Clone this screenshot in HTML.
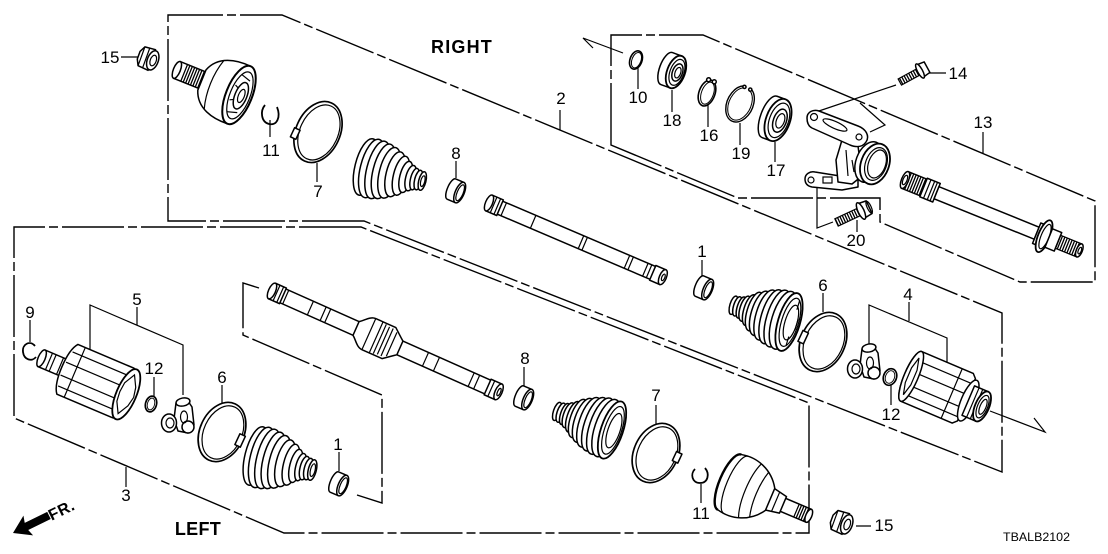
<!DOCTYPE html>
<html><head><meta charset="utf-8">
<style>
html,body{margin:0;padding:0;background:#fff;}
svg{display:block}
.d{fill:none;stroke:#000;stroke-width:1.4;stroke-dasharray:62 4 9 4}
.p{fill:#fff;stroke:#000;stroke-width:1.5;stroke-linejoin:round}
.l{fill:none;stroke:#000;stroke-width:1.2}
.k{fill:none;stroke:#000;stroke-width:2.4}
.t{font-family:"Liberation Sans",Arial,sans-serif;font-size:17px;fill:#000;text-anchor:middle}
.b{font-family:"Liberation Sans",Arial,sans-serif;font-weight:bold;fill:#000}
</style></head><body>
<svg width="1108" height="554" viewBox="0 0 1108 554" xmlns="http://www.w3.org/2000/svg">
<defs>
<pattern id="h" width="2.6" height="6" patternUnits="userSpaceOnUse"><rect width="1.3" height="6" fill="#000"/></pattern>
</defs>
<rect width="1108" height="554" fill="#fff"/>

<!-- dashed boxes -->
<path class="d" d="M364,221 L168,221 L168,15 L282,15 L1002,313 L1002,472 Z"/>
<path class="d" d="M361,227 L14,227 L14,418 L284,533 L809,533 L809,403 Z"/>
<path class="d" d="M611,145 L611,35 L703,35 L1095,201 L1095,282 L1020,282 L880,222 L880,198 L738,198 Z"/>
<path class="d" d="M259,288 L243,283 L243,335 L382,395 L382,503 L357,495"/>

<!-- axis arrows -->
<path class="l" d="M623,53 L583,38 L593,48"/>
<path class="l" d="M990,411 L1045,432 L1034,418"/>

<!-- bracket leader lines -->
<path class="l" d="M90,350 L90,305 L183,345 L183,395"/>
<path class="l" d="M869,345 L869,305 L947,338 L947,367"/>

<!-- leaders -->
<path class="l" d="M121,57 L139,57 M270,120 L270,137 M317,163 L317,182 M456,161 L456,178 M560,110 L560,130 M638,67 L638,89 M672,90 L672,112 M708,104 L708,127 M740,123 L740,145 M775,142 L775,162 M983,132 L983,153 M928,73 L946,73 M857,220 L857,232 M702,260 L702,280 M823,293 L823,312 M909,302 L909,321 M891,385 L891,405 M30,320 L30,342 M137,307 L137,325 M154,377 L154,396 M222,385 L222,403 M339,452 L339,471 M524,367 L524,386 M656,405 L656,424 M701,484 L701,503 M856,526 L871,526 M126,467 L126,487"/>
<path class="l" d="M896,85 L813,113 M860,103 L885,125 L870,132 M817,188 L817,228 L833,222"/>

<!-- ===== TOP (RIGHT) ===== -->
<!-- nut 15 -->
<g transform="translate(149,59) rotate(20)">
<path class="p" d="M-8,-10 L3,-11 L3,11 L-8,10 L-11,4 L-11,-4 Z"/>
<path class="l" d="M-8,-10 L-8,10 M-3,-11 L-3,11"/>
<ellipse class="p" cx="4" cy="0" rx="5.5" ry="10"/>
<ellipse class="l" cx="4.5" cy="0" rx="3" ry="5.5"/>
</g>
<!-- outer CV joint top -->
<g transform="translate(239,95) rotate(22)">
<rect class="p" x="-67" y="-9" width="30" height="18"/>
<rect x="-60" y="-9" width="22" height="18" fill="url(#h)"/>
<ellipse class="p" cx="-67" cy="0" rx="3.5" ry="9"/>
<path class="p" d="M-40,-11 C-34,-28 -16,-32 0,-31 L0,31 C-16,32 -34,28 -40,11 Z"/>
<path class="l" d="M-27,-26 C-32,-10 -32,10 -27,26"/>
<ellipse class="p" cx="0" cy="0" rx="13" ry="31" style="stroke-width:2"/>
<ellipse class="l" cx="1" cy="0" rx="10" ry="25"/>
<ellipse class="p" cx="2" cy="0" rx="6" ry="14"/>
<ellipse class="l" cx="2.5" cy="0" rx="3" ry="7"/>
<path class="l" d="M-5,-20 L5,-17 M-5,20 L5,17 M-7,-8 L-3,-6 M-7,8 L-3,6"/>
</g>
<!-- clip 11 top -->
<path d="M265,105 C260,111 261,122 269,124 C277,126 281,117 277,107" fill="none" stroke="#000" stroke-width="1.8"/>
<!-- band 7 top -->
<g transform="translate(318,132) rotate(25)">
<ellipse cx="0" cy="0" rx="22" ry="32" fill="none" stroke="#000" stroke-width="1.7"/>
<ellipse cx="1" cy="0" rx="19" ry="29" fill="none" stroke="#000" stroke-width="1.2"/>
<rect class="p" x="-23" y="6" width="6" height="10"/>
</g>
<!-- boot top -->
<g transform="translate(366,167) rotate(14)">
<ellipse class="p" cx="0" cy="0" rx="11" ry="29"/>
<ellipse class="p" cx="6" cy="0" rx="11.5" ry="30"/>
<ellipse class="p" cx="12" cy="0" rx="11" ry="29.5"/>
<ellipse class="p" cx="18" cy="0" rx="10.5" ry="28"/>
<ellipse class="p" cx="24" cy="0" rx="10" ry="26"/>
<ellipse class="p" cx="30" cy="0" rx="9" ry="23"/>
<ellipse class="p" cx="36" cy="0" rx="7.5" ry="20"/>
<ellipse class="p" cx="41" cy="0" rx="6" ry="16"/>
<ellipse class="p" cx="46" cy="0" rx="5" ry="13"/>
<ellipse class="p" cx="50" cy="0" rx="4" ry="11"/>
<ellipse class="p" cx="54" cy="0" rx="3.8" ry="10"/>
<ellipse class="p" cx="58" cy="0" rx="3.6" ry="9.5"/>
<ellipse class="l" cx="58.5" cy="0" rx="2" ry="5.5"/>
</g>
<!-- band 8 top -->
<g transform="translate(456,191) rotate(23)">
<path class="p" d="M-5,-11 L4,-11 L4,11 L-5,11 A4,11 0 0 1 -5,-11 Z"/>
<ellipse class="p" cx="4" cy="0" rx="4.5" ry="11"/>
<ellipse class="l" cx="4.5" cy="0" rx="3" ry="8.5"/>
</g>
<!-- shaft 2 -->
<g transform="translate(489,203) rotate(23.1)">
<rect class="p" x="0" y="-7" width="189" height="14"/>
<rect class="p" x="0" y="-8.5" width="12" height="17"/>
<ellipse class="p" cx="0" cy="0" rx="3.5" ry="8.5"/>
<path class="l" d="M5,-8.5 L5,8.5 M9,-8.5 L9,8.5 M16,-7 L16,7 M48,-7 L48,7 M100,-7 L100,7 M104,-7 L104,7 M150,-7 L150,7 M154,-7 L154,7 M170,-7 L170,7 M174,-7 L174,7"/>
<rect class="p" x="178" y="-8" width="11" height="16"/>
<ellipse class="p" cx="189" cy="0" rx="3.5" ry="8"/>
<ellipse class="l" cx="189.5" cy="0" rx="1.5" ry="3.5"/>
</g>
<!-- ring 10 -->
<g transform="translate(636,60) rotate(20)">
<ellipse cx="0" cy="0" rx="6" ry="9.5" fill="none" stroke="#000" stroke-width="1.6"/>
<ellipse cx="0.5" cy="0" rx="4.5" ry="8" fill="none" stroke="#000" stroke-width="1"/>
</g>
<!-- bearing 18 -->
<g transform="translate(676,72) rotate(20)">
<path class="p" d="M-10,-17 L0,-17 L0,17 L-10,17 A7,17 0 0 1 -10,-17 Z"/>
<ellipse class="p" cx="0" cy="0" rx="9" ry="17" style="stroke-width:1.8"/>
<ellipse class="l" cx="1" cy="0" rx="7" ry="13.5"/>
<ellipse class="p" cx="1.5" cy="0" rx="5" ry="9"/>
<ellipse class="l" cx="2" cy="0" rx="2.8" ry="5.5"/>
</g>
<!-- ring 16 -->
<g transform="translate(707,93) rotate(20)">
<ellipse cx="0" cy="0" rx="8" ry="13.5" fill="none" stroke="#000" stroke-width="1.6"/>
<ellipse cx="0.5" cy="0" rx="6" ry="11.5" fill="none" stroke="#000" stroke-width="1"/>
<circle class="p" cx="-3" cy="-13" r="2"/>
<circle class="p" cx="3" cy="-13" r="2"/>
</g>
<!-- circlip 19 -->
<g transform="translate(740,104) rotate(25)">
<path d="M3.4,-18.4 A13,19 0 1 1 -3.4,-18.4" fill="none" stroke="#000" stroke-width="1.4"/>
<path d="M2.9,-16.4 A11,17 0 1 1 -2.9,-16.4" fill="none" stroke="#000" stroke-width="1"/>
<circle class="p" cx="3.2" cy="-17.4" r="1.6"/>
<circle class="p" cx="-3.2" cy="-17.4" r="1.6"/>
</g>
<!-- bearing 17 -->
<g transform="translate(778,120) rotate(20)">
<path class="p" d="M-9,-22 L0,-22 L0,22 L-9,22 A9,22 0 0 1 -9,-22 Z"/>
<ellipse class="p" cx="0" cy="0" rx="12" ry="22" style="stroke-width:1.8"/>
<ellipse class="l" cx="1" cy="0" rx="9.5" ry="18"/>
<ellipse class="p" cx="2" cy="0" rx="6.5" ry="12"/>
<ellipse class="l" cx="2.5" cy="0" rx="4" ry="7.5"/>
</g>
<!-- bracket 13 -->
<path class="p" d="M805,179 C805,174 810,171 815,172 L840,176 L858,178 L858,187 L842,190 L812,187 C807,186 805,183 805,179 Z"/>
<circle class="l" cx="811" cy="180" r="3"/>
<rect class="l" x="823" y="177" width="9" height="6"/>
<path class="p" d="M842,140 L858,146 L862,176 L852,184 L838,182 L836,160 Z"/>
<path class="l" d="M846,150 L848,176 M852,160 L854,172"/>
<path class="p" d="M807,118 C807,112 813,109 819,111 L858,126 C866,129 870,136 866,142 C862,148 855,147 850,145 L812,128 C808,126 807,122 807,118 Z"/>
<circle class="l" cx="814" cy="117" r="3.5"/>
<ellipse class="l" cx="835" cy="125" rx="13" ry="3.5" transform="rotate(24 835 125)"/>
<circle class="l" cx="859" cy="137" r="3"/>
<ellipse class="p" cx="869" cy="162" rx="13" ry="21" transform="rotate(20 869 162)"/>
<ellipse class="p" cx="875" cy="164" rx="14" ry="21" transform="rotate(20 875 164)" style="stroke-width:1.8"/>
<ellipse class="l" cx="876" cy="164" rx="10.5" ry="17" transform="rotate(20 876 164)"/>
<ellipse class="l" cx="877" cy="164" rx="8.5" ry="14.5" transform="rotate(20 877 164)"/>
<!-- bolt 14 -->
<g transform="translate(920,71) rotate(151.4)">
<rect x="0" y="-3.5" width="23" height="7" fill="url(#h)" stroke="#000" stroke-width="1.2"/>
<path class="p" d="M-8,-6 L0,-7 L0,7 L-8,6 Z"/>
<ellipse class="p" cx="0" cy="0" rx="2.5" ry="8"/>
</g>
<!-- bolt 20 -->
<g transform="translate(861,211) rotate(155)">
<rect x="0" y="-4" width="27" height="8" fill="url(#h)" stroke="#000" stroke-width="1.2"/>
<path class="p" d="M-9,-7 L0,-8 L0,8 L-9,7 Z"/>
<ellipse class="p" cx="0" cy="0" rx="3" ry="9"/>
<ellipse class="l" cx="-9" cy="0" rx="2" ry="6.5"/>
</g>
<!-- shaft 13 -->
<g transform="translate(905,180) rotate(22)">
<rect x="0" y="-9" width="20" height="18" fill="url(#h)" stroke="#000" stroke-width="1.4"/>
<ellipse class="p" cx="0" cy="0" rx="3.5" ry="9"/>
<ellipse class="l" cx="0" cy="0" rx="2" ry="5"/>
<rect class="p" x="20" y="-10" width="14" height="20"/>
<path class="l" d="M24,-10 L24,10 M28,-10 L28,10 M31,-10 L31,10"/>
<rect class="p" x="34" y="-6.5" width="108" height="13"/>
<rect class="p" x="142" y="-11" width="8" height="22"/>
<ellipse class="p" cx="150" cy="0" rx="6" ry="17" style="stroke-width:1.8"/>
<ellipse class="l" cx="151" cy="0" rx="4" ry="13"/>
<rect class="p" x="155" y="-10" width="10" height="20"/>
<rect x="165" y="-7" width="23" height="14" fill="url(#h)" stroke="#000" stroke-width="1.3"/>
<ellipse class="p" cx="188" cy="0" rx="3" ry="7"/>
<ellipse class="l" cx="188.5" cy="0" rx="1.5" ry="3.5"/>
</g>

<!-- ===== MIDDLE (RIGHT inner) ===== -->
<!-- band 1 top -->
<g transform="translate(704,288) rotate(23)">
<path class="p" d="M-5,-11 L4,-11 L4,11 L-5,11 A4,11 0 0 1 -5,-11 Z"/>
<ellipse class="p" cx="4" cy="0" rx="4.5" ry="11"/>
<ellipse class="l" cx="4.5" cy="0" rx="3" ry="8.5"/>
</g>
<!-- boot middle right -->
<g transform="translate(789,322) rotate(196.8)">
<ellipse class="p" cx="58" cy="0" rx="3.6" ry="9.5"/>
<ellipse class="p" cx="54" cy="0" rx="3.8" ry="10"/>
<ellipse class="p" cx="50" cy="0" rx="4" ry="11"/>
<ellipse class="p" cx="46" cy="0" rx="5" ry="13"/>
<ellipse class="p" cx="41" cy="0" rx="6" ry="16"/>
<ellipse class="p" cx="36" cy="0" rx="7.5" ry="20"/>
<ellipse class="p" cx="30" cy="0" rx="9" ry="23"/>
<ellipse class="p" cx="24" cy="0" rx="10" ry="26"/>
<ellipse class="p" cx="18" cy="0" rx="10.5" ry="28"/>
<ellipse class="p" cx="12" cy="0" rx="11" ry="29.5"/>
<ellipse class="p" cx="6" cy="0" rx="11.5" ry="30"/>
<ellipse class="p" cx="0" cy="0" rx="11" ry="30" style="stroke-width:1.8"/>
<ellipse class="l" cx="-1" cy="0" rx="8.5" ry="25"/>
<ellipse class="l" cx="-2" cy="0" rx="6" ry="18"/>
<path class="l" d="M-4,-24 L-4,-14 M-4,14 L-4,24 M-8,-6 L-8,6"/>
</g>
<!-- band 6 right -->
<g transform="translate(823,342) rotate(25)">
<ellipse cx="0" cy="0" rx="22" ry="31" fill="none" stroke="#000" stroke-width="1.7"/>
<ellipse cx="1" cy="0" rx="19" ry="28" fill="none" stroke="#000" stroke-width="1.2"/>
<rect class="p" x="-23" y="-2" width="6" height="12"/>
</g>
<!-- tripod 4 -->
<g transform="translate(864,361)">
<path class="p" d="M-2,-12 L10,-14 L14,-8 L16,10 L10,18 L0,16 L-4,4 Z"/>
<ellipse class="p" cx="5" cy="-13" rx="7" ry="4" transform="rotate(-10 5 -13)"/>
<ellipse class="p" cx="10" cy="12" rx="6" ry="6"/>
<ellipse class="p" cx="-9" cy="8" rx="7.5" ry="9"/>
<ellipse class="l" cx="-8" cy="8" rx="4" ry="5"/>
<ellipse class="l" cx="6" cy="2" rx="3.5" ry="6"/>
</g>
<!-- o-ring 12 right -->
<g transform="translate(890,377) rotate(20)">
<ellipse cx="0" cy="0" rx="6.5" ry="8.5" fill="none" stroke="#000" stroke-width="1.7"/>
<ellipse cx="0" cy="0" rx="4.5" ry="6.5" fill="none" stroke="#000" stroke-width="0.9"/>
</g>
<!-- housing 4 -->
<g transform="translate(948,392) rotate(23)">
<path class="p" d="M-40,-27 L16,-27 L20,-23 L20,23 L16,27 L-40,27 A7,27 0 0 1 -40,-27 Z"/>
<path class="l" d="M-40,-17 L20,-17 M-40,-5 L20,-5 M-40,9 L20,9 M-40,19 L20,19 M4,-27 L4,27"/>
<ellipse class="p" cx="-40" cy="0" rx="7" ry="27"/>
<path class="l" d="M-40,-20 L-43,-8 L-43,8 L-40,20 L-37,8 L-37,-8 Z"/>
<ellipse class="p" cx="22" cy="0" rx="7" ry="22"/>
<rect class="p" x="22" y="-16" width="15" height="32"/>
<path class="l" d="M27,-16 L27,16 M31,-16 L31,16"/>
<ellipse class="p" cx="37" cy="0" rx="7" ry="16" style="stroke-width:1.8"/>
<ellipse class="l" cx="37.5" cy="0" rx="5" ry="12"/>
<ellipse class="l" cx="38" cy="0" rx="3" ry="8"/>
</g>

<!-- ===== LEFT ===== -->
<!-- circlip 9 -->
<path d="M35,346 C30,340 22,344 23,352 C24,360 32,362 36,357" fill="none" stroke="#000" stroke-width="1.8"/>
<!-- housing 5 -->
<g transform="translate(95,381) rotate(23)">
<rect class="p" x="-58" y="-9" width="30" height="18"/>
<ellipse class="p" cx="-58" cy="0" rx="3.5" ry="9"/>
<path class="l" d="M-50,-9 L-50,9 M-46,-9 L-46,9 M-38,-9 L-38,9"/>
<path class="p" d="M-30,-27 L30,-27 C33,-27 34,-25 34,-23 L34,23 C34,25 33,27 30,27 L-30,27 C-34,22 -36,12 -36,0 C-36,-12 -34,-22 -30,-27 Z"/>
<path class="l" d="M-32,-18 L34,-18 M-34,-6 L34,-6 M-34,8 L34,8 M-32,19 L34,19 M-22,-27 L-22,27"/>
<ellipse class="p" cx="34" cy="0" rx="10" ry="27" style="stroke-width:1.8"/>
<path class="l" d="M34,-21 L40,-10 L42,0 L40,10 L34,21 L28,10 L27,0 L28,-10 Z"/>
</g>
<!-- o-ring 12 left -->
<g transform="translate(151,404) rotate(15)">
<ellipse cx="0" cy="0" rx="5.5" ry="8" fill="none" stroke="#000" stroke-width="1.7"/>
<ellipse cx="0" cy="0" rx="3.6" ry="6" fill="none" stroke="#000" stroke-width="0.9"/>
</g>
<!-- tripod left -->
<g transform="translate(178,415)">
<path class="p" d="M-2,-12 L10,-14 L14,-8 L16,10 L10,18 L0,16 L-4,4 Z"/>
<ellipse class="p" cx="5" cy="-13" rx="7" ry="4" transform="rotate(-10 5 -13)"/>
<ellipse class="p" cx="10" cy="12" rx="6" ry="6"/>
<ellipse class="p" cx="-9" cy="8" rx="7.5" ry="9"/>
<ellipse class="l" cx="-8" cy="8" rx="4" ry="5"/>
<ellipse class="l" cx="6" cy="2" rx="3.5" ry="6"/>
</g>
<!-- band 6 left -->
<g transform="translate(222,432) rotate(25)">
<ellipse cx="0" cy="0" rx="22" ry="31" fill="none" stroke="#000" stroke-width="1.7"/>
<ellipse cx="1" cy="0" rx="19" ry="28" fill="none" stroke="#000" stroke-width="1.2"/>
<rect class="p" x="17" y="-6" width="6" height="12"/>
</g>
<!-- boot left -->
<g transform="translate(256,456) rotate(14)">
<ellipse class="p" cx="0" cy="0" rx="11" ry="30"/>
<ellipse class="p" cx="6" cy="0" rx="11.5" ry="31"/>
<ellipse class="p" cx="12" cy="0" rx="11" ry="30.5"/>
<ellipse class="p" cx="18" cy="0" rx="10.5" ry="29"/>
<ellipse class="p" cx="24" cy="0" rx="10" ry="27"/>
<ellipse class="p" cx="30" cy="0" rx="9" ry="24"/>
<ellipse class="p" cx="36" cy="0" rx="7.5" ry="21"/>
<ellipse class="p" cx="41" cy="0" rx="6" ry="17"/>
<ellipse class="p" cx="46" cy="0" rx="5" ry="14"/>
<ellipse class="p" cx="50" cy="0" rx="4.5" ry="12"/>
<ellipse class="p" cx="54" cy="0" rx="4.2" ry="11"/>
<ellipse class="p" cx="58" cy="0" rx="4" ry="10.5"/>
<ellipse class="l" cx="58.5" cy="0" rx="2.3" ry="6.5"/>
</g>
<!-- band 1 left -->
<g transform="translate(339,484) rotate(23)">
<path class="p" d="M-5,-11 L4,-11 L4,11 L-5,11 A4,11 0 0 1 -5,-11 Z"/>
<ellipse class="p" cx="4" cy="0" rx="4.5" ry="11"/>
<ellipse class="l" cx="4.5" cy="0" rx="3" ry="8.5"/>
</g>
<!-- shaft 3 -->
<g transform="translate(272,291) rotate(24)">
<rect class="p" x="0" y="-7.5" width="248" height="15"/>
<rect class="p" x="0" y="-8.5" width="12" height="17"/>
<ellipse class="p" cx="0" cy="0" rx="3.5" ry="8.5"/>
<path class="l" d="M5,-8.5 L5,8.5 M9,-8.5 L9,8.5 M15,-7.5 L15,7.5 M42,-7.5 L42,7.5 M56,-7.5 L56,7.5 M61,-7.5 L61,7.5"/>
<path class="p" d="M92,-7.5 C96,-10 100,-17 106,-17 L128,-17 L138,-9 L140,-7.5 L140,7.5 L138,9 L128,17 L106,17 C100,17 96,10 92,7.5 Z"/>
<path class="l" d="M106,-17 L106,17 M114,-17 L114,17 M118,-16 L118,16 M122,-15 L122,15 M126,-15 L126,15 M131,-13 L131,13"/>
<path class="l" d="M168,-7.5 L168,7.5 M180,-7.5 L180,7.5 M218,-7.5 L218,7.5 M224,-7.5 L224,7.5"/>
<rect class="p" x="236" y="-8.5" width="12" height="17"/>
<path class="l" d="M240,-8.5 L240,8.5"/>
<ellipse class="p" cx="248" cy="0" rx="3.5" ry="8.5"/>
<ellipse class="l" cx="248.5" cy="0" rx="1.5" ry="4"/>
</g>
<!-- band 8 mid -->
<g transform="translate(524,398) rotate(23)">
<path class="p" d="M-5,-11 L4,-11 L4,11 L-5,11 A4,11 0 0 1 -5,-11 Z"/>
<ellipse class="p" cx="4" cy="0" rx="4.5" ry="11"/>
<ellipse class="l" cx="4.5" cy="0" rx="3" ry="8.5"/>
</g>
<!-- boot bottom middle -->
<g transform="translate(612,430) rotate(198.7)">
<ellipse class="p" cx="58" cy="0" rx="3.6" ry="9.5"/>
<ellipse class="p" cx="54" cy="0" rx="3.8" ry="10"/>
<ellipse class="p" cx="50" cy="0" rx="4" ry="11"/>
<ellipse class="p" cx="46" cy="0" rx="5" ry="13"/>
<ellipse class="p" cx="41" cy="0" rx="6" ry="16"/>
<ellipse class="p" cx="36" cy="0" rx="7.5" ry="20"/>
<ellipse class="p" cx="30" cy="0" rx="9" ry="23"/>
<ellipse class="p" cx="24" cy="0" rx="10" ry="26"/>
<ellipse class="p" cx="18" cy="0" rx="10.5" ry="28"/>
<ellipse class="p" cx="12" cy="0" rx="11" ry="29.5"/>
<ellipse class="p" cx="6" cy="0" rx="11.5" ry="30"/>
<ellipse class="p" cx="0" cy="0" rx="11" ry="30" style="stroke-width:1.8"/>
<ellipse class="l" cx="-1" cy="0" rx="8.5" ry="25"/>
<ellipse class="l" cx="-2" cy="0" rx="6" ry="18"/>
</g>
<!-- band 7 bottom -->
<g transform="translate(656,453) rotate(25)">
<ellipse cx="0" cy="0" rx="22" ry="31" fill="none" stroke="#000" stroke-width="1.7"/>
<ellipse cx="1" cy="0" rx="19" ry="28" fill="none" stroke="#000" stroke-width="1.2"/>
<rect class="p" x="18" y="-10" width="6" height="10"/>
</g>
<!-- clip 11 bottom -->
<path d="M695,469 C690,474 692,483 700,483 C708,483 710,474 705,468" fill="none" stroke="#000" stroke-width="1.8"/>
<!-- outer CV joint bottom -->
<g transform="translate(748,490) rotate(23)">
<rect class="p" x="36" y="-7" width="30" height="14"/>
<rect x="52" y="-7" width="13" height="14" fill="url(#h)"/>
<ellipse class="p" cx="66" cy="0" rx="3" ry="7"/>
<path class="p" d="M22,-12 L38,-9 L38,9 L22,12 Z"/>
<path class="l" d="M30,-10.5 L30,10.5"/>
<path class="p" d="M-20,-30 C-4,-34 14,-28 24,-12 L24,12 C14,28 -4,34 -20,30 A10,30 0 0 1 -20,-30 Z"/>
<path class="k" d="M-20,-30 A10,30 0 0 0 -20,30"/>
<path class="l" d="M-13,-31 A9,30 0 0 0 -13,31"/>
<path class="l" d="M2,-29 C-4,-14 -4,14 2,29"/>
<path class="l" d="M12,-24 C8,-10 8,10 12,24"/>
</g>
<!-- nut 15 bottom -->
<g transform="translate(843,523) rotate(20)">
<path class="p" d="M-9,-10 L3,-11 L3,11 L-9,10 L-12,4 L-12,-4 Z"/>
<path class="l" d="M-9,-10 L-9,10 M-3,-11 L-3,11"/>
<ellipse class="p" cx="4" cy="0" rx="5.5" ry="10"/>
<ellipse class="l" cx="4.5" cy="0" rx="3" ry="5.5"/>
</g>

<!-- FR arrow -->
<g transform="translate(13,533) rotate(-26)">
<path d="M0,0 L17,-11 L15,-4 L40,-4 L40,4 L15,4 L17,11 Z" fill="#000"/>
<text x="40" y="6" class="b" font-size="16" letter-spacing="0.5">FR.</text>
</g>

<!-- labels -->
<text class="b" x="462" y="53" font-size="18" text-anchor="middle" letter-spacing="1.2">RIGHT</text>
<text class="b" x="198" y="535" font-size="18" text-anchor="middle" letter-spacing="0.3">LEFT</text>
<text x="1003" y="541" font-family="Liberation Sans, Arial, sans-serif" font-size="12" textLength="67" lengthAdjust="spacingAndGlyphs">TBALB2102</text>

<text class="t" x="110" y="63">15</text>
<text class="t" x="271" y="156">11</text>
<text class="t" x="318" y="197">7</text>
<text class="t" x="456" y="159">8</text>
<text class="t" x="561" y="104">2</text>
<text class="t" x="638" y="103">10</text>
<text class="t" x="672" y="126">18</text>
<text class="t" x="709" y="141">16</text>
<text class="t" x="741" y="159">19</text>
<text class="t" x="776" y="176">17</text>
<text class="t" x="983" y="128">13</text>
<text class="t" x="958" y="79">14</text>
<text class="t" x="856" y="246">20</text>
<text class="t" x="702" y="257">1</text>
<text class="t" x="823" y="291">6</text>
<text class="t" x="908" y="300">4</text>
<text class="t" x="891" y="420">12</text>
<text class="t" x="30" y="318">9</text>
<text class="t" x="137" y="305">5</text>
<text class="t" x="154" y="374">12</text>
<text class="t" x="222" y="383">6</text>
<text class="t" x="338" y="450">1</text>
<text class="t" x="525" y="364">8</text>
<text class="t" x="656" y="401">7</text>
<text class="t" x="701" y="519">11</text>
<text class="t" x="884" y="531">15</text>
<text class="t" x="126" y="501">3</text>
</svg>
</body></html>
